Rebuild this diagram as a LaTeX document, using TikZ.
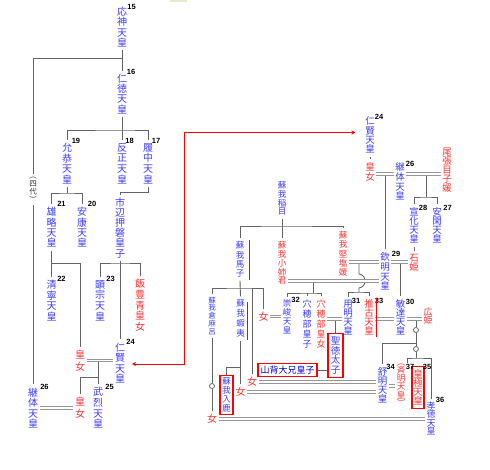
\documentclass[tikz,border=0pt]{standalone}
\usepackage{fontspec}
\newfontfamily\jp{Noto Sans CJK JP}
\newfontfamily\numf{Liberation Sans}
\usetikzlibrary{arrows.meta}
\definecolor{blu}{RGB}{60,60,255}
\definecolor{rd}{RGB}{255,51,51}
\definecolor{lngray}{RGB}{100,100,100}
\definecolor{dlgray}{RGB}{150,150,150}
\definecolor{beige}{RGB}{238,230,200}
\definecolor{dblue}{RGB}{0,0,220}
\tikzset{
 vt/.style 2 args={align=center, inner xsep=1.5pt, inner ysep=3pt, font=\jp\fontsize{#1}{#2}\selectfont},
 bl/.style={text=blu}, rf/.style={text=rd},
 numlbl/.style={font=\numf\bfseries\fontsize{7.5}{8}\selectfont, inner sep=0pt, text=black},
 ln/.style={draw=lngray, line width=0.9pt},
 dbl/.style={draw=dlgray, double=white, line width=1.3pt, double distance=1.2pt},
 redmark/.style={draw=red, line width=1pt},
 rbox/.style={draw=red, line width=1.2pt},
 circ/.style={circle, draw=lngray, fill=white, line width=0.8pt, minimum size=5pt, inner sep=0pt},
}
\begin{document}
\begin{tikzpicture}[x=1pt,y=-1pt]
\fill[white] (0,0) rectangle (490,470);
\useasboundingbox (0,0) rectangle (490,470);
\fill[beige] (170,0) rectangle (187,2.5);

% ---------- left tree ----------
\node[vt={10}{10.5},bl] (ojin) at (122,27) {応\\神\\天\\皇};
\node[vt={10}{10.1},bl] (nintoku) at (122,94) {仁\\徳\\天\\皇};
\node[vt={10}{10.6},bl] (ingyo) at (67,163.5) {允\\恭\\天\\皇};
\node[vt={10}{10.6},bl] (hanzei) at (122,163.5) {反\\正\\天\\皇};
\node[vt={10}{10.6},bl] (richu) at (148,163.5) {履\\中\\天\\皇};
\node[vt={10}{10.3},bl] (yuryaku) at (51.5,227.5) {雄\\略\\天\\皇};
\node[vt={10}{10.3},bl] (anko) at (82,227.5) {安\\康\\天\\皇};
\node[vt={10}{10.1},bl] (ichinobe) at (120,228) {市\\辺\\押\\磐\\皇\\子};
\node[vt={10}{10.6},bl] (seinei) at (51.5,300.5) {清\\寧\\天\\皇};
\node[vt={10}{10.6},bl] (kenzo) at (100,300.5) {顕\\宗\\天\\皇};
\node[vt={10}{10.7},rf] (iitoyo) at (140,305.5) {飯\\豊\\青\\皇\\女};
\node[vt={10}{10.6},bl] (ninken) at (120,363) {仁\\賢\\天\\皇};
\node[vt={10}{11.5},rf] (hime1) at (80,360.5) {皇\\女};
\node[vt={10}{11.5},rf] (hime2) at (80,407.5) {皇\\女};
\node[vt={10}{10.6},bl] (buretsu) at (98,408) {武\\烈\\天\\皇};
\node[vt={10}{10.6},bl] (keitai1) at (33,408) {継\\体\\天\\皇};
\node[vt={7.5}{8},text=black!80] (yondai) at (33,189.5) {︵\\四\\代\\︶};

\node[numlbl] at (131.5,6.5) {15};
\node[numlbl] at (131,72) {16};
\node[numlbl] at (76,141) {19};
\node[numlbl] at (129.5,141) {18};
\node[numlbl] at (156,141) {17};
\node[numlbl] at (61.5,204) {21};
\node[numlbl] at (92,204) {20};
\node[numlbl] at (61.5,279) {22};
\node[numlbl] at (110.5,279) {23};
\node[numlbl] at (130.5,341.5) {24};
\node[numlbl] at (109.5,387) {25};
\node[numlbl] at (44.5,387) {26};

% ---------- right tree ----------
\node[vt={9.5}{9.4},bl] (ninken2) at (370,135) {仁\\賢\\天\\皇};
\node[vt={9.5}{10.3},rf] (hime3) at (370,172) {皇\\女};
\node[vt={9.5}{9.8},bl] (keitai2) at (400,181.5) {継\\体\\天\\皇};
\node[vt={9.5}{9.1},rf] (owari) at (447,170) {尾\\張\\目\\子\\媛};
\node[vt={9.5}{9.1},bl] (senka) at (414,225.5) {宣\\化\\天\\皇};
\node[vt={9.5}{9.1},bl] (ankan) at (437,225.5) {安\\閑\\天\\皇};
\node[vt={9.5}{9},rf] (ishihime) at (414,263) {石\\姫};
\node[vt={9.5}{9.8},bl] (kinmei) at (385,271.5) {欽\\明\\天\\皇};
\node[vt={8.5}{8.7},bl] (iname) at (282,198.5) {蘇\\我\\稲\\目};
\node[vt={8.5}{9.4},bl] (umako) at (240,259.5) {蘇\\我\\馬\\子};
\node[vt={8.5}{8.8},rf] (oane) at (282,263) {蘇\\我\\小\\姉\\君};
\node[vt={8.5}{9.3},rf] (kitashi) at (343,254) {蘇\\我\\堅\\塩\\媛};
\node[vt={8.5}{8.9},bl] (sushun) at (287,317) {崇\\峻\\天\\皇};
\node[vt={9}{10.2},bl] (anaM) at (307,324) {穴\\穂\\部\\皇\\子};
\node[vt={9}{10.2},rf] (anaF) at (321,324) {穴\\穂\\部\\皇\\女};
\node[vt={10}{10},rf] (onnaM) at (263.5,316.5) {女};
\node[vt={7.5}{7.9},bl] (kuramaro) at (212,316) {蘇\\我\\倉\\麻\\呂};
\node[vt={8.5}{10},bl] (emishi) at (240.5,318.5) {蘇\\我\\蝦\\夷};
\node[vt={8.5}{9},bl,rbox,inner xsep=2.2pt,inner ysep=2.5pt] (iruka) at (226.5,395) {蘇\\我\\入\\鹿};
\node[rbox,font=\jp\fontsize{9}{10}\selectfont,text=dblue,inner xsep=2.5pt,inner ysep=2pt] (yamashiro) at (287.5,370) {山背大兄皇子};
\node[vt={9.5}{9.8},bl,rbox,inner sep=2.7pt] (shotoku) at (335.5,355.5) {聖\\徳\\太\\子};
\node[vt={9.5}{9.1},bl] (yomei) at (348,317.5) {用\\明\\天\\皇};
\node[vt={9.5}{9.1},rf] (suiko) at (369,317.5) {推\\古\\天\\皇};
\node[vt={9.5}{9.1},bl] (bidatsu) at (400.5,317.5) {敏\\達\\天\\皇};
\node[vt={9}{8.5},rf] (hirohime) at (428,316) {広\\姫};
\node[vt={9.5}{9.1},bl] (jomei) at (382.5,385.5) {舒\\明\\天\\皇};
\node[vt={8.5}{8.3},rf] (saimei) at (401,385) {︵\\斉\\明\\天\\皇\\︶};
\node[vt={9.5}{9.1},rf,rbox,inner xsep=1.2pt,inner ysep=3pt] (kogyoku) at (418,387.5) {皇\\極\\天\\皇};
\node[vt={9}{8.5},bl] (kotoku) at (431,418.5) {孝\\徳\\天\\皇};
\node[vt={10}{10},rf] (onnaE) at (240.5,392) {女};
\node[vt={10}{10},rf] (onnaU) at (252,382) {女};
\node[vt={10}{10},rf] (onnaK) at (212,419) {女};
\node[circ] (c1) at (212,386) {};
\node[circ] (c2) at (416,330) {};
\node[circ] (c3) at (416,349) {};

\node[numlbl] at (379,116.5) {24};
\node[numlbl] at (410,163.5) {26};
\node[numlbl] at (423,207.5) {28};
\node[numlbl] at (447.5,207.5) {27};
\node[numlbl] at (396,253.5) {29};
\node[numlbl] at (356,300.5) {31};
\node[numlbl] at (379,300.5) {33};
\node[numlbl] at (410,301.5) {30};
\node[numlbl] at (295.5,300) {32};
\node[numlbl] at (390.5,366.5) {34};
\node[numlbl] at (410,366.5) {37};
\node[numlbl] at (427,366.5) {35};
\node[numlbl] at (440,400) {36};

% ---------- junction coordinates ----------
\coordinate (j1) at (122,58);
\coordinate (j2) at (122,130);
\coordinate (j3) at (67,193);
\coordinate (j4) at (120,192);
\coordinate (j5) at (120,263);
\coordinate (j6) at (51.5,263);
\coordinate (m1) at (98,361);
\coordinate (j7) at (98,377);
\coordinate (y174) at (0,174);
\coordinate (y262) at (0,262);
\coordinate (y281) at (0,281);
\coordinate (y319) at (0,319);
\coordinate (y386) at (0,386);
\coordinate (m2) at (385,174);
\coordinate (m3) at (426,174);
\coordinate (j8) at (426,197);
\coordinate (m4) at (400.5,262);
\coordinate (m5) at (359,262);
\coordinate (hop1) at (359,274);
\coordinate (hop2) at (359,288);
\coordinate (j15) at (359,292);
\coordinate (m6) at (313,281);
\coordinate (j9) at (313,293);
\coordinate (j10) at (282,226);
\coordinate (j11) at (240.5,288);
\coordinate (j12) at (240.5,367);
\coordinate (m7) at (335.5,319);
\coordinate (m8) at (416,319);
\coordinate (j13) at (416,358);
\coordinate (j14) at (416,343);
\coordinate (e37) at (407,363);
\coordinate (a1) at (132,364);
\coordinate (a3) at (184,132.5);
\coordinate (a2) at (355.5,132.5);

% ---------- single lines ----------
\draw[ln] (ojin.south) -- (nintoku.north);
\draw[ln] (j1) -| (yondai.north);
\draw[ln] (yondai.south) -- (keitai1.north);
\draw[ln] (nintoku.south) -- (hanzei.north);
\draw[ln] (ingyo.north) |- (j2) -| (richu.north);
\draw[ln] (ingyo.south) -- (j3);
\draw[ln] (yuryaku.north) |- (j3) -| (anko.north);
\draw[ln] (richu.south) |- (j4) -- (ichinobe.north);
\draw[ln] (ichinobe.south) -- (ninken.north);
\draw[ln] (kenzo.north) |- (j5) -| (iitoyo.north);
\draw[ln] (yuryaku.south) -- (seinei.north);
\draw[ln] (j6) -| (hime1.north);
\draw[ln] (m1) -- (buretsu.north);
\draw[ln] (hime2.north) |- (j7);

\draw[ln] (ninken2.south) -- (hime3.north);
\draw[ln] (m2) -- (kinmei.north);
\draw[ln] (m3) -- (j8);
\draw[ln] (senka.north) |- (j8) -| (ankan.north);
\draw[ln] (senka.south) -- (ishihime.north);
\draw[ln] (m4) -- (bidatsu.north);
\draw[ln] (m5) -- (hop1) .. controls (367,275) and (367,287) .. (hop2) -- (j15);
\draw[ln] (yomei.north) |- (j15) -| (suiko.north);
\draw[ln] (m6) -- (j9);
\draw[ln] (sushun.north) |- (j9) -| (anaF.north);
\draw[ln] (anaM.north) -- (anaM.north |- j9);
\draw[ln] (iname.south) -- (oane.north);
\draw[ln] (umako.north) |- (j10) -| (kitashi.north);
\draw[ln] (umako.south) -- (emishi.north);
\draw[ln] (kuramaro.north) |- (j11) -| (onnaM.north);
\draw[ln] (onnaU.north) -- (onnaU.north |- j11);
\draw[ln] (kuramaro.south) -- (c1.north);
\draw[ln] (c1.south) -- (onnaK.north);
\draw[ln] (emishi.south) -- (onnaE.north);
\draw[ln] (iruka.north) |- (j12);
\draw[ln] (m7) -- (shotoku.north);
\draw[ln] (yamashiro.east) -- (yamashiro.east -| shotoku.west);
\draw[ln] (m8) -- (c2.north);
\draw[ln] (c2.south) -- (c3.north);
\draw[ln] (c3.south) -- (j13);
\draw[ln] (j14) -| (jomei.north);
\draw[ln] (e37) |- (j13) -| (kotoku.north);

% ---------- marriage lines ----------
\draw[dbl] (hime1.east) -- (hime1.east -| ninken.west);
\draw[dbl] (keitai1.east) -- (keitai1.east -| hime2.west);
\draw[dbl] (hime3.east |- y174) -- (keitai2.west |- y174);
\draw[dbl] (keitai2.east |- y174) -- (owari.west |- y174);
\draw[dbl] (kitashi.east |- y262) -- (kinmei.west |- y262);
\draw[dbl] (kinmei.east |- y262) -- (ishihime.west |- y262);
\draw[dbl] (oane.east |- y281) -- (kinmei.west |- y281);
\draw[dbl] (onnaM.east) -- (onnaM.east -| sushun.west);
\draw[dbl] (anaF.east |- y319) -- (yomei.west |- y319);
\draw[dbl] (suiko.east |- y319) -- (bidatsu.west |- y319);
\draw[dbl] (bidatsu.east |- y319) -- (hirohime.west |- y319);
\draw[dbl] (jomei.east |- y386) -- (saimei.west |- y386);
\draw[dbl] (onnaU.east) -- (onnaU.east -| jomei.west);
\draw[dbl] (onnaE.east) -- (onnaE.east -| jomei.west);
\draw[dbl] (onnaK.east) -- (onnaK.east -| kotoku.west);

% ---------- red marks and arrow ----------
\draw[redmark] (249,240) -- (249,280);
\draw[redmark] (247,302) -- (247,340);
\draw[redmark] (376,298) -- (376,337);
\draw[red, line width=0.9pt, {Stealth[length=4pt,width=4pt]}-{Stealth[length=4pt,width=4pt]}] (a1) -| (a3) -- (a2);
\end{tikzpicture}
\end{document}
